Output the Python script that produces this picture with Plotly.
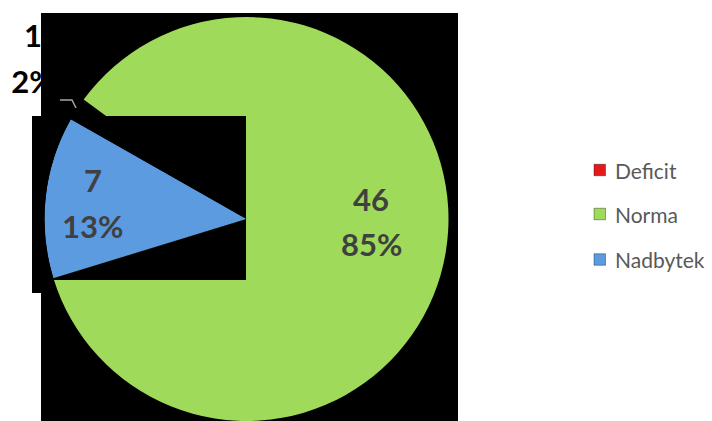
import math
import plotly.graph_objects as go

# Survey result: how many subjects fall below, within and above the norm
categories = ["Deficit", "Norma", "Nadbytek"]
counts = [1, 46, 7]
colors = ["#E31A1C", "#9FDA5A", "#5C9BE0"]

W, H = 712, 421
CX, CY, R = 246.5, 219.0, 202.0   # pie centre and radius in pixels
ROTATION = -60.4                  # start of the first slice, clockwise from 12 o'clock

total = sum(counts)
percents = [round(100 * c / total) for c in counts]


def px(x):
    return x / W


def py(y):
    return 1 - y / H


def slice_point(angle_deg, radius=R):
    a = math.radians(angle_deg)
    return CX + radius * math.sin(a), CY - radius * math.cos(a)


# the small first slice sits under the backdrop of the big slice, so it stays unseen
slice_colors = ["rgba(0,0,0,0)"] + colors[1:]

fig = go.Figure()

fig.add_trace(go.Pie(
    labels=categories,
    values=counts,
    sort=False,
    direction="clockwise",
    rotation=ROTATION,
    marker=dict(colors=slice_colors, line=dict(width=0)),
    textinfo="none",
    hoverinfo="label+value+percent",
    showlegend=False,
    domain=dict(x=[px(CX - R), px(CX + R)], y=[0, 2 * R / H]),
))

# label of the small slice, cut off by the backdrop of the big slice
fig.add_trace(go.Scatter(
    x=[33, 33], y=[39, 85],
    mode="text",
    text=[str(counts[0]), f"{percents[0]}%"],
    textposition="middle center",
    textfont=dict(family="Lato", size=31, color="black", weight="bold"),
    cliponaxis=True,
    hoverinfo="skip",
    showlegend=False,
))
fig.update_xaxes(domain=[0, 41 / W], range=[0, 41], visible=False, fixedrange=True)
fig.update_yaxes(domain=[0, 1], range=[H, 0], visible=False, fixedrange=True)


def rect_path(x0, y0, x1, y1):
    return (f"M{px(x0)},{py(y0)} L{px(x1)},{py(y0)} L{px(x1)},{py(y1)} "
            f"L{px(x0)},{py(y1)} Z")


shapes = []
# black backdrop behind the pie
shapes.append(dict(type="path", xref="paper", yref="paper", layer="below",
                   path=rect_path(41, 13, 458, H + 1),
                   fillcolor="black", line=dict(width=0)))
shapes.append(dict(type="path", xref="paper", yref="paper", layer="below",
                   path=rect_path(32, 116, 41, 293),
                   fillcolor="black", line=dict(width=0)))

# backdrop of the last slice: drawn over the big slice, with the slice cut out
start = ROTATION + 360 * sum(counts[:-1]) / total
stop = ROTATION + 360
steps = 60
wedge = [f"M{px(CX)},{py(CY)}"]
for k in range(steps + 1):
    x, y = slice_point(start + (stop - start) * k / steps)
    wedge.append(f"L{px(x)},{py(y)}")
wedge.append("Z")
shapes.append(dict(type="path", xref="paper", yref="paper", layer="above",
                   path=rect_path(32, 116, 246, 280) + " " + " ".join(wedge),
                   fillrule="evenodd", fillcolor="black", line=dict(width=0)))

# leader line of the small slice
shapes.append(dict(type="path", xref="paper", yref="paper", layer="above",
                   path=f"M{px(60)},{py(100)} L{px(72)},{py(100)} L{px(76)},{py(108)}",
                   line=dict(color="#A6A6A6", width=1.5)))

annotations = []
label_font = dict(family="Lato", size=31, color="#404040", weight="bold")
label_pos = {1: (371, 199, 244), 2: (92.5, 180, 226)}
for i, (lx, y_val, y_pct) in label_pos.items():
    annotations.append(dict(x=px(lx), y=py(y_val), xref="paper", yref="paper",
                            text=str(counts[i]), showarrow=False, font=label_font,
                            xanchor="center", yanchor="middle"))
    annotations.append(dict(x=px(lx), y=py(y_pct), xref="paper", yref="paper",
                            text=f"{percents[i]}%", showarrow=False, font=label_font,
                            xanchor="center", yanchor="middle"))

# legend
legend_y = [170, 214, 259.5]
for name, col, ly in zip(categories, colors, legend_y):
    shapes.append(dict(type="rect", xref="paper", yref="paper", layer="above",
                       x0=px(594), x1=px(605.5), y0=py(ly - 5.75), y1=py(ly + 5.75),
                       fillcolor=col, line=dict(color="rgba(0,0,0,0.35)", width=1)))
    annotations.append(dict(x=px(613), y=py(ly), xref="paper", yref="paper",
                            text=name, showarrow=False,
                            font=dict(family="Lato", size=21, color="#595959"),
                            xanchor="left", yanchor="middle"))

fig.update_layout(
    width=W, height=H,
    margin=dict(l=0, r=0, t=0, b=0),
    paper_bgcolor="white",
    plot_bgcolor="rgba(0,0,0,0)",
    shapes=shapes,
    annotations=annotations,
    showlegend=False,
)

fig.write_html("out.html")
